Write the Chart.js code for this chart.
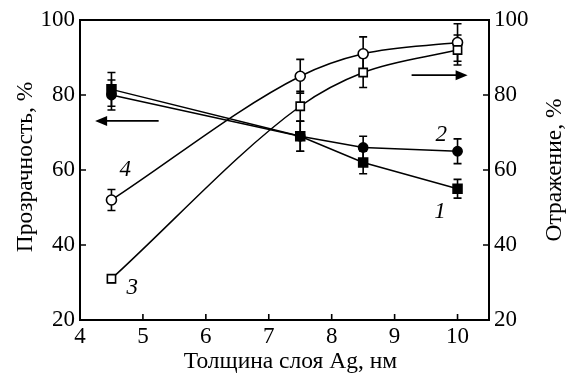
<!DOCTYPE html>
<html>
<head>
<meta charset="utf-8">
<script src="https://cdn.jsdelivr.net/npm/chart.js@4/dist/chart.umd.min.js"></script>
<style>
html,body{margin:0;padding:0;background:#fff;}
#wrap{width:570px;height:376px;}
</style>
</head>
<body>
<div id="wrap"><canvas id="c" width="570" height="376"></canvas></div>
<script>
// ---- data ----
const thickness = [4.5, 7.5, 8.5, 10];           // Толщина слоя Ag, нм
const transmission1 = [81.5, 69, 62, 55];        // curve 1, Прозрачность %
const transmission1Err = [4.5, 4, 3, 2.5];
const transmission2 = [80, 69, 66, 65];          // curve 2, Прозрачность %
const transmission2Err = [4, 4, 3, 3.3];
const reflection3 = [31, 77, 86, 92];            // curve 3, Отражение %
const reflection3Err = [1, 4, 4, 4];
const reflection4 = [52, 85, 91, 94];            // curve 4, Отражение %
const reflection4Err = [2.8, 4.5, 4.5, 5];
const xTicks = [4, 5, 6, 7, 8, 9, 10];
const yTicks = [20, 40, 60, 80, 100];
const curveLabels = ['1', '2', '3', '4'];

const FONT = "'Liberation Serif', 'Times New Roman', serif";

function pts(ys){ return thickness.map((x,i)=>({x:x, y:ys[i]})); }

const errorBars = {
  id: 'errorBars',
  beforeDatasetsDraw(chart){
    const ctx = chart.ctx;
    const xs = chart.scales.x;
    ctx.save();
    ctx.strokeStyle = '#000';
    ctx.lineWidth = 1.6;
    chart.data.datasets.forEach((ds) => {
      const ys = chart.scales[ds.yAxisID];
      ds.data.forEach((p, i) => {
        const e = ds.errors[i];
        const px = xs.getPixelForValue(p.x);
        const y1 = ys.getPixelForValue(p.y + e);
        const y2 = ys.getPixelForValue(p.y - e);
        ctx.beginPath();
        ctx.moveTo(px, y1); ctx.lineTo(px, y2);
        ctx.moveTo(px - 4, y1); ctx.lineTo(px + 4, y1);
        ctx.moveTo(px - 4, y2); ctx.lineTo(px + 4, y2);
        ctx.stroke();
      });
    });
    ctx.restore();
  }
};

function arrow(ctx, x1, y, x2){
  const dir = Math.sign(x2 - x1);
  ctx.beginPath();
  ctx.moveTo(x1, y); ctx.lineTo(x2 - dir*8, y);
  ctx.stroke();
  ctx.beginPath();
  ctx.moveTo(x2, y);
  ctx.lineTo(x2 - dir*12, y - 5);
  ctx.lineTo(x2 - dir*12, y + 5);
  ctx.closePath();
  ctx.fill();
}

const decor = {
  id: 'decor',
  afterDraw(chart){
    const ctx = chart.ctx;
    const x = chart.scales.x, yL = chart.scales.yL, yR = chart.scales.yR;
    const a = chart.chartArea;
    ctx.save();
    ctx.strokeStyle = '#000';
    ctx.fillStyle = '#000';
    // frame
    ctx.lineWidth = 2;
    ctx.strokeRect(a.left, a.top, a.right - a.left, a.bottom - a.top);
    // inward tick marks
    ctx.lineWidth = 1.6;
    ctx.beginPath();
    yTicks.forEach(v => {
      const py = yL.getPixelForValue(v);
      ctx.moveTo(a.left, py); ctx.lineTo(a.left + 6, py);
      const pr = yR.getPixelForValue(v);
      ctx.moveTo(a.right, pr); ctx.lineTo(a.right - 6, pr);
    });
    xTicks.forEach(v => {
      const px = x.getPixelForValue(v);
      ctx.moveTo(px, a.bottom); ctx.lineTo(px, a.bottom - 6);
    });
    ctx.stroke();
    // arrows
    ctx.lineWidth = 1.8;
    arrow(ctx, x.getPixelForValue(5.25), yL.getPixelForValue(73.1), x.getPixelForValue(4.24));
    arrow(ctx, x.getPixelForValue(9.27), yR.getPixelForValue(85.3), x.getPixelForValue(10.16));
    // curve numbers
    ctx.font = 'italic 23px ' + FONT;
    ctx.textAlign = 'center';
    ctx.textBaseline = 'middle';
    const lab = [[9.72, 48.8], [9.74, 69.3], [4.83, 28.6], [4.72, 60]];
    curveLabels.forEach((t, i) => {
      ctx.fillText(t, x.getPixelForValue(lab[i][0]), yL.getPixelForValue(lab[i][1]));
    });
    // axis titles
    ctx.font = '23.5px ' + FONT;
    ctx.fillText('Толщина слоя Ag, нм', (a.left + a.right) / 2 + 6, 362);
    ctx.save();
    ctx.translate(26, (a.top + a.bottom) / 2 - 3);
    ctx.rotate(-Math.PI / 2);
    ctx.fillText('Прозрачность, %', 0, 0);
    ctx.restore();
    ctx.save();
    ctx.translate(555, (a.top + a.bottom) / 2);
    ctx.rotate(-Math.PI / 2);
    ctx.fillText('Отражение, %', 0, 0);
    ctx.restore();
    ctx.restore();
  }
};

function onlyTicks(list){
  return function(scale){ scale.ticks = list.map(v => ({value: v})); };
}

const lineBase = {borderColor: '#000', borderWidth: 1.5, pointBorderColor: '#000', pointBorderWidth: 1.6, fill: false};

new Chart(document.getElementById('c'), {
  type: 'line',
  data: {
    datasets: [
      Object.assign({}, lineBase, {label: '1', data: pts(transmission1), errors: transmission1Err, yAxisID: 'yL',
        pointStyle: 'rect', pointRadius: 6.3, pointBackgroundColor: '#000', tension: 0}),
      Object.assign({}, lineBase, {label: '2', data: pts(transmission2), errors: transmission2Err, yAxisID: 'yL',
        pointStyle: 'circle', pointRadius: 4.6, pointBackgroundColor: '#000', tension: 0}),
      Object.assign({}, lineBase, {label: '3', data: pts(reflection3), errors: reflection3Err, yAxisID: 'yR',
        pointStyle: 'rect', pointRadius: 5.8, pointBackgroundColor: '#fff', cubicInterpolationMode: 'monotone'}),
      Object.assign({}, lineBase, {label: '4', data: pts(reflection4), errors: reflection4Err, yAxisID: 'yR',
        pointStyle: 'circle', pointRadius: 5, pointBackgroundColor: '#fff', cubicInterpolationMode: 'monotone'})
    ]
  },
  options: {
    responsive: false,
    devicePixelRatio: 1,
    animation: false,
    layout: {padding: {top: 20, left: 0, right: 0, bottom: 0}},
    plugins: {legend: {display: false}, tooltip: {enabled: false}},
    scales: {
      x: {
        type: 'linear', min: 4, max: 10.5,
        afterBuildTicks: onlyTicks(xTicks),
        afterFit(s){ s.height = 56; },
        grid: {display: false, drawTicks: false},
        border: {display: false},
        ticks: {color: '#000', font: {family: FONT, size: 23}, padding: 3, maxRotation: 0, autoSkip: false}
      },
      yL: {
        type: 'linear', position: 'left', min: 20, max: 100,
        afterBuildTicks: onlyTicks(yTicks),
        afterFit(s){ s.width = 80; },
        grid: {display: false, drawTicks: false},
        border: {display: false},
        ticks: {color: '#000', font: {family: FONT, size: 23}, padding: 5}
      },
      yR: {
        type: 'linear', position: 'right', min: 20, max: 100,
        afterBuildTicks: onlyTicks(yTicks),
        afterFit(s){ s.width = 81; },
        grid: {display: false, drawTicks: false},
        border: {display: false},
        ticks: {color: '#000', font: {family: FONT, size: 23}, padding: 5}
      }
    }
  },
  plugins: [errorBars, decor]
});
</script>
</body>
</html>
